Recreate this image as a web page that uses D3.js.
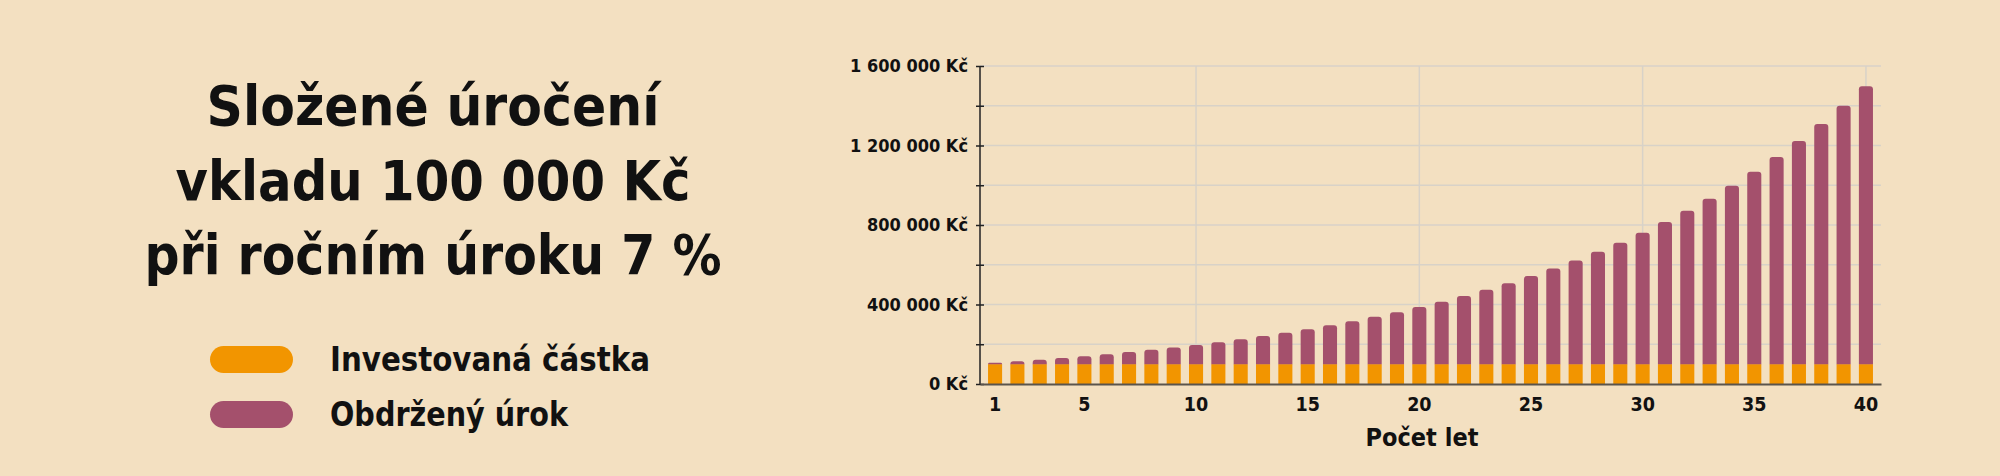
<!DOCTYPE html>
<html>
<head>
<meta charset="utf-8">
<script src="https://cdn.jsdelivr.net/npm/d3@7"></script>
<style>
  body { margin: 0; background: #f3e0c1; }
  svg { display: block; }
</style>
</head>
<body>
<svg id="chart"></svg>
<script>
// --- data ---
const years = [1, 2, 3, 4, 5, 6, 7, 8, 9, 10, 11, 12, 13, 14, 15, 16, 17, 18, 19, 20,
    21, 22, 23, 24, 25, 26, 27, 28, 29, 30, 31, 32, 33, 34, 35, 36, 37, 38, 39, 40];
const invested = [100000, 100000, 100000, 100000, 100000, 100000, 100000, 100000, 100000, 100000,
    100000, 100000, 100000, 100000, 100000, 100000, 100000, 100000, 100000, 100000,
    100000, 100000, 100000, 100000, 100000, 100000, 100000, 100000, 100000, 100000,
    100000, 100000, 100000, 100000, 100000, 100000, 100000, 100000, 100000, 100000];
const interest = [7000, 14500, 22500, 31000, 40000, 50000, 60500, 72000, 84000, 96500,
    110500, 125000, 141000, 158000, 176000, 195000, 216000, 238000, 261500, 287000,
    314000, 343000, 374000, 407000, 443000, 481000, 521000, 565000, 611000, 661000,
    714500, 771500, 832500, 898000, 967500, 1042500, 1122500, 1208000, 1299500, 1397500];
const yTickValues = [0, 200000, 400000, 600000, 800000, 1000000, 1200000, 1400000, 1600000];
const yLabelValues = [0, 400000, 800000, 1200000, 1600000];
const xTickYears = [1, 5, 10, 15, 20, 25, 30, 35, 40];
const xGridYears = [10, 20, 30, 40];
const titleLines = ['Složené úročení', 'vkladu 100 000 Kč', 'při ročním úroku 7 %'];
const seriesNames = ['Investovaná částka', 'Obdržený úrok'];
const xTitle = 'Počet let';

// --- layout ---
const W = 2000, H = 476;
const colors = { invested: '#f29500', interest: '#a4506c' };
const heavy = "'DejaVu Sans', sans-serif";
const tickFont = "'DejaVu Sans Condensed', 'DejaVu Sans', sans-serif";
const plot = { left: 980, right: 1881, top: 66, bottom: 384 };

const svg = d3.select('#chart').attr('width', W).attr('height', H);
svg.append('rect').attr('width', W).attr('height', H).attr('fill', '#f3e0c1');

// stretch/squeeze text to the width it takes in the reference
function fit(node, width) {
    d3.select(node).attr('textLength', width).attr('lengthAdjust', 'spacingAndGlyphs');
}

// title
const titleWidths = [453, 515, 577];
svg.append('g').selectAll('text')
    .data(titleLines)
    .join('text')
    .attr('x', 433)
    .attr('y', (d, i) => 125 + i * 74.5)
    .attr('text-anchor', 'middle')
    .style('font-family', heavy)
    .style('font-weight', 'bold')
    .style('font-size', '55.5px')
    .attr('fill', '#111')
    .text(d => d)
    .each(function (d, i) { fit(this, titleWidths[i]); });

// legend
const legendWidths = [320, 238];
const legend = svg.append('g').selectAll('g')
    .data(seriesNames)
    .join('g')
    .attr('transform', (d, i) => `translate(210, ${346 + i * 55})`);
legend.append('rect')
    .attr('width', 83).attr('height', 27).attr('rx', 13.5)
    .attr('fill', (d, i) => i === 0 ? colors.invested : colors.interest);
legend.append('text')
    .attr('x', 120).attr('y', 24.5)
    .style('font-family', heavy)
    .style('font-weight', 'bold')
    .style('font-size', '34px')
    .attr('fill', '#111')
    .text(d => d)
    .each(function (d, i) { fit(this, legendWidths[i]); });

// scales
const x = d3.scaleBand()
    .domain(years)
    .range([plot.left, plot.right])
    .paddingInner(0.37)
    .paddingOuter(0.36);
const y = d3.scaleLinear()
    .domain([0, 1600000])
    .range([plot.bottom, plot.top]);

const xc = d => x(d) + x.bandwidth() / 2;

// grid
const grid = svg.append('g').attr('stroke', '#d8d2c8').attr('stroke-width', 1.5);
grid.selectAll('.hg')
    .data(yTickValues.filter(v => v > 0))
    .join('line')
    .attr('x1', plot.left).attr('x2', plot.right)
    .attr('y1', d => y(d)).attr('y2', d => y(d));
grid.selectAll('.vg')
    .data(xGridYears)
    .join('line')
    .attr('x1', xc).attr('x2', xc)
    .attr('y1', plot.top).attr('y2', plot.bottom);

// stacked bars
const table = years.map((yr, i) => ({ year: yr, invested: invested[i], interest: interest[i] }));
const stacked = d3.stack().keys(['invested', 'interest'])(table);
const r = 3;
const bw = x.bandwidth();

svg.append('g').selectAll('rect')
    .data(stacked[0])
    .join('rect')
    .attr('x', d => x(d.data.year))
    .attr('y', d => y(d[1]))
    .attr('width', bw)
    .attr('height', d => y(d[0]) - y(d[1]))
    .attr('fill', colors.invested);

svg.append('g').selectAll('path')
    .data(stacked[1])
    .join('path')
    .attr('fill', colors.interest)
    .attr('d', d => {
        const x0 = x(d.data.year), x1 = x0 + bw;
        const top = y(d[1]), base = y(d[0]);
        const rr = Math.min(r, base - top);
        return `M${x0},${base}V${top + rr}Q${x0},${top} ${x0 + rr},${top}H${x1 - rr}Q${x1},${top} ${x1},${top + rr}V${base}Z`;
    });

// y axis
const yAxis = d3.axisLeft(y)
    .tickValues(yTickValues)
    .tickSize(4)
    .tickPadding(8)
    .tickFormat(d => yLabelValues.includes(d) ? d3.format(',')(d).replace(/,/g, ' ') + ' Kč' : '');
const yg = svg.append('g')
    .attr('transform', `translate(${plot.left}, 0)`)
    .call(yAxis);
yg.select('.domain').attr('stroke', '#222').attr('stroke-width', 1.5).attr('d', `M0,${plot.top}V${plot.bottom}`);
yg.selectAll('.tick line').attr('x1', 4).attr('stroke', '#222').attr('stroke-width', 1.5);
yg.selectAll('.tick text')
    .attr('fill', '#111')
    .style('font-family', tickFont)
    .style('font-weight', 'bold')
    .style('font-size', '18px');

// x axis
const xAxis = d3.axisBottom(x)
    .tickValues(xTickYears)
    .tickSize(0)
    .tickPadding(13);
const xg = svg.append('g')
    .attr('transform', `translate(0, ${plot.bottom})`)
    .call(xAxis);
xg.select('.domain').attr('stroke', '#5a544c').attr('stroke-width', 2);
xg.selectAll('.tick text')
    .attr('fill', '#111')
    .style('font-family', tickFont)
    .style('font-weight', 'bold')
    .style('font-size', '19.5px');

svg.append('text')
    .attr('x', 1422).attr('y', 446)
    .attr('text-anchor', 'middle')
    .style('font-family', tickFont)
    .style('font-weight', 'bold')
    .style('font-size', '25px')
    .attr('fill', '#111')
    .text(xTitle);
</script>
</body>
</html>
